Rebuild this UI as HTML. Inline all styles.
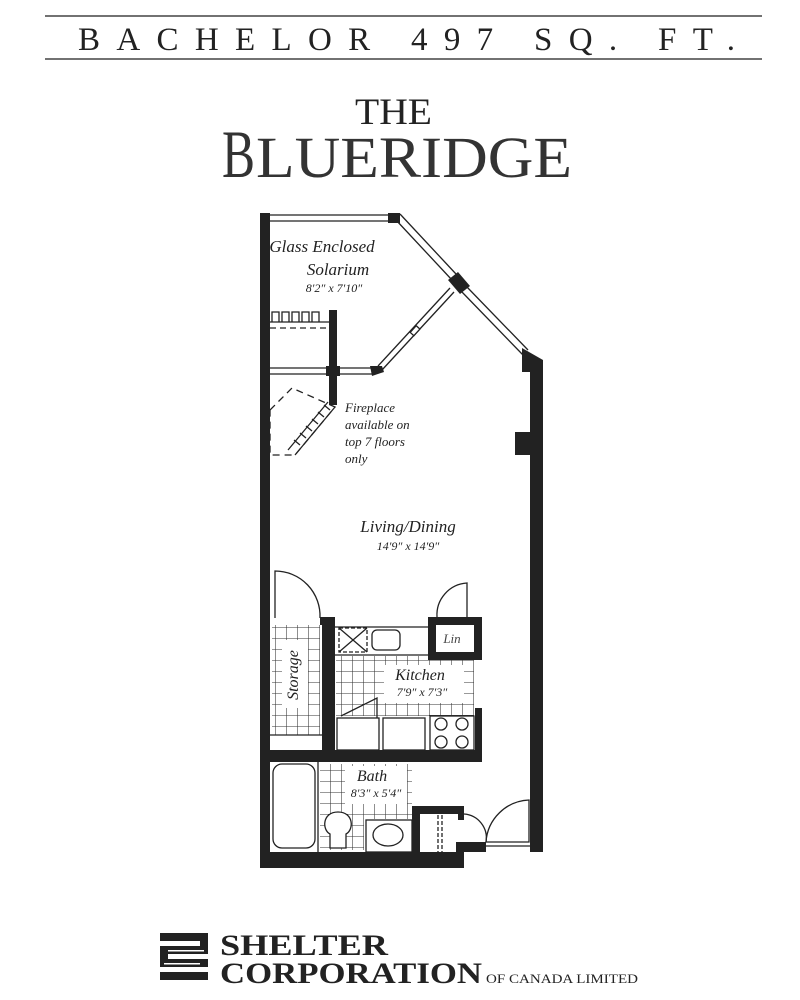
<!DOCTYPE html>
<html><head><meta charset="utf-8"><style>
html,body{margin:0;padding:0;background:#fff;}
svg{display:block;}
</style></head><body>
<svg width="800" height="1000" viewBox="0 0 800 1000" xmlns="http://www.w3.org/2000/svg" font-family="Liberation Serif, serif">
<rect width="800" height="1000" fill="#fff"/>
<!-- header -->
<line x1="45" y1="16" x2="762" y2="16" stroke="#444" stroke-width="1.5"/>
<line x1="45" y1="59" x2="762" y2="59" stroke="#444" stroke-width="1.5"/>
<text x="78" y="50" font-size="33" fill="#222" textLength="657" lengthAdjust="spacing">BACHELOR  497  SQ. FT.</text>
<text x="355" y="124" font-size="37" fill="#222" textLength="77" lengthAdjust="spacingAndGlyphs">THE</text>
<text x="222" y="177" font-size="68" fill="#333" textLength="33" lengthAdjust="spacingAndGlyphs">B</text>
<text x="256" y="177" font-size="58" fill="#333" textLength="316" lengthAdjust="spacingAndGlyphs">LUERIDGE</text>

<defs>
  <pattern id="tile" width="11" height="11" patternUnits="userSpaceOnUse">
    <path d="M0 0H11M0 0V11" stroke="#333" stroke-width="1.1" fill="none"/>
  </pattern>
</defs>
<rect x="272" y="625" width="48" height="110" fill="url(#tile)"/>
<rect x="336" y="656" width="138" height="60" fill="url(#tile)"/>
<rect x="320" y="764" width="92" height="55" fill="url(#tile)"/>
<rect x="320" y="818" width="44" height="32" fill="url(#tile)"/>

<!-- floor plan -->
<g fill="#222" stroke="none">
  <rect x="260" y="213" width="10" height="655"/>
  <rect x="260" y="852" width="160" height="16"/>
  <rect x="530" y="360" width="13" height="492"/>
  <polygon points="522,348 543,360 543,372 522,372"/>
  <rect x="515" y="432" width="17" height="23"/>
  <rect x="388" y="213" width="12" height="10"/>
  <polygon points="448,280 458,272 470,286 460,294"/>
  <rect x="329" y="310" width="8" height="95"/>
  <rect x="326" y="366" width="14" height="10"/>
  <polygon points="370,366 382,366 384,372 372,376"/>
  <rect x="260" y="366" width="10" height="10"/>
  <rect x="322" y="618" width="13" height="140"/>
  <rect x="260" y="750" width="222" height="12"/>
  <rect x="428" y="617" width="54" height="8"/>
  <rect x="428" y="617" width="8" height="43"/>
  <rect x="474" y="617" width="8" height="43"/>
  <rect x="428" y="652" width="54" height="8"/>
  <rect x="475" y="708" width="7" height="45"/>
  <rect x="320" y="617" width="15" height="8"/>
  <rect x="412" y="806" width="50" height="8"/>
  <rect x="412" y="806" width="8" height="55"/>
  <rect x="412" y="852" width="52" height="16"/>
  <rect x="456" y="842" width="30" height="10"/>
  <rect x="458" y="806" width="6" height="14"/>
</g>
<g fill="none" stroke="#222" stroke-width="1.3">
  <line x1="270" y1="215" x2="390" y2="215"/>
  <line x1="270" y1="221" x2="390" y2="221"/>
  <line x1="400" y1="214" x2="456" y2="274"/>
  <line x1="396" y1="220" x2="452" y2="280"/>
  <line x1="466" y1="286" x2="528" y2="350"/>
  <line x1="461" y1="291" x2="523" y2="355"/>
  <line x1="450" y1="288" x2="378" y2="366"/>
  <line x1="454" y1="292" x2="382" y2="370"/>
  <rect x="413" y="326" width="5" height="9" transform="rotate(42 415 330)" fill="#fff"/>
  <line x1="270" y1="368" x2="372" y2="368"/>
  <line x1="270" y1="374" x2="372" y2="374"/>
  <line x1="270" y1="322" x2="329" y2="322"/>
  <line x1="270" y1="328" x2="329" y2="328" stroke-dasharray="6,4"/>
  <path d="M272 322v-10h7v10M282 322v-10h7v10M292 322v-10h7v10M302 322v-10h7v10M312 322v-10h7v10"/>
  <!-- fireplace -->
  <polygon points="270,410 292,388 335,407 295,455 270,455" stroke-dasharray="7,5"/>
  <path d="M335 407l-40 48M328 402l-40 48"/>
  <path d="M330 410l-6 -5M324 417l-6-5M318 424l-6-5M312 431l-6-5M306 438l-6-5M300 445l-6-5"/>
  <!-- doors -->
  <path d="M275 618v-47a45 45 0 0 1 45 47"/>
  <path d="M467 617v-34a32 32 0 0 0 -30 34"/>
  <!-- kitchen -->
  <line x1="335" y1="627" x2="428" y2="627"/>
  <line x1="335" y1="655" x2="482" y2="655"/>
  <rect x="339" y="628" width="28" height="24" stroke-dasharray="4,2"/>
  <path d="M339 628l28 24M367 628l-28 24"/>
  <rect x="372" y="630" width="28" height="20" rx="5"/>
  <rect x="337" y="718" width="42" height="32" fill="#fff"/>
  <rect x="383" y="718" width="42" height="32" fill="#fff"/>
  <rect x="430" y="716" width="44" height="34" fill="#fff"/>
  <circle cx="441" cy="724" r="6"/><circle cx="462" cy="724" r="6"/>
  <circle cx="441" cy="742" r="6"/><circle cx="462" cy="742" r="6"/>
  <path d="M341 716l36-18v20"/>
  <line x1="270" y1="735" x2="322" y2="735"/>
  <!-- bath -->
  <rect x="273" y="764" width="42" height="84" rx="9"/>
  <line x1="318" y1="762" x2="318" y2="852"/>
  <rect x="366" y="820" width="46" height="32" fill="#fff"/>
  <ellipse cx="388" cy="835" rx="15" ry="11"/>
  <path d="M330 848v-14c-8-4-8-22 8-22s16 18 8 22v14z" fill="#fff"/>
  <line x1="438" y1="815" x2="438" y2="852" stroke-dasharray="4,2"/>
  <line x1="442" y1="815" x2="442" y2="852" stroke-dasharray="4,2"/>
  <path d="M464 814a24 24 0 0 1 22 28"/>
  <path d="M529 842v-42a45 45 0 0 0 -43 42z"/>
  <line x1="486" y1="846" x2="530" y2="846"/>
</g>
<!-- label backgrounds -->
<rect x="282" y="640" width="26" height="68" fill="#fff"/>
<rect x="384" y="665" width="80" height="38" fill="#fff"/>
<rect x="345" y="766" width="62" height="38" fill="#fff"/>
<g font-style="italic" fill="#222" text-anchor="middle">
  <text x="322" y="252" font-size="17">Glass Enclosed</text>
  <text x="338" y="275" font-size="17">Solarium</text>
  <text x="334" y="292" font-size="12">8′2″ x 7′10″</text>
  <text x="345" y="412" font-size="13" text-anchor="start">Fireplace</text>
  <text x="345" y="429" font-size="13" text-anchor="start">available on</text>
  <text x="345" y="446" font-size="13" text-anchor="start">top 7 floors</text>
  <text x="345" y="463" font-size="13" text-anchor="start">only</text>
  <text x="408" y="532" font-size="17">Living/Dining</text>
  <text x="408" y="550" font-size="12">14′9″ x 14′9″</text>
  <text x="420" y="680" font-size="16">Kitchen</text>
  <text x="422" y="696" font-size="12">7′9″ x 7′3″</text>
  <text x="452" y="643" font-size="13" fill="#444">Lin</text>
  <text x="372" y="781" font-size="16">Bath</text>
  <text x="376" y="797" font-size="12">8′3″ x 5′4″</text>
  <text transform="translate(298,675) rotate(-90)" font-size="16">Storage</text>
</g>

<!-- logo -->
<g fill="#222">
  <rect x="160" y="933" width="48" height="8"/>
  <rect x="160" y="946" width="48" height="8"/>
  <rect x="160" y="959" width="48" height="8"/>
  <rect x="160" y="972" width="48" height="8"/>
  <rect x="200" y="933" width="8" height="21"/>
  <rect x="160" y="946" width="8" height="21"/>
  <rect x="168" y="950" width="36" height="1.5" fill="#fff"/>
  <rect x="164" y="963" width="36" height="1.5" fill="#fff"/>
</g>
<text x="220" y="955" font-size="30" font-weight="bold" fill="#222" textLength="168" lengthAdjust="spacingAndGlyphs">SHELTER</text>
<text x="220" y="983" font-size="30" font-weight="bold" fill="#222" textLength="262" lengthAdjust="spacingAndGlyphs">CORPORATION</text>
<text x="486" y="983" font-size="13" fill="#222" textLength="152" lengthAdjust="spacingAndGlyphs">OF CANADA LIMITED</text>
</svg>
</body></html>
